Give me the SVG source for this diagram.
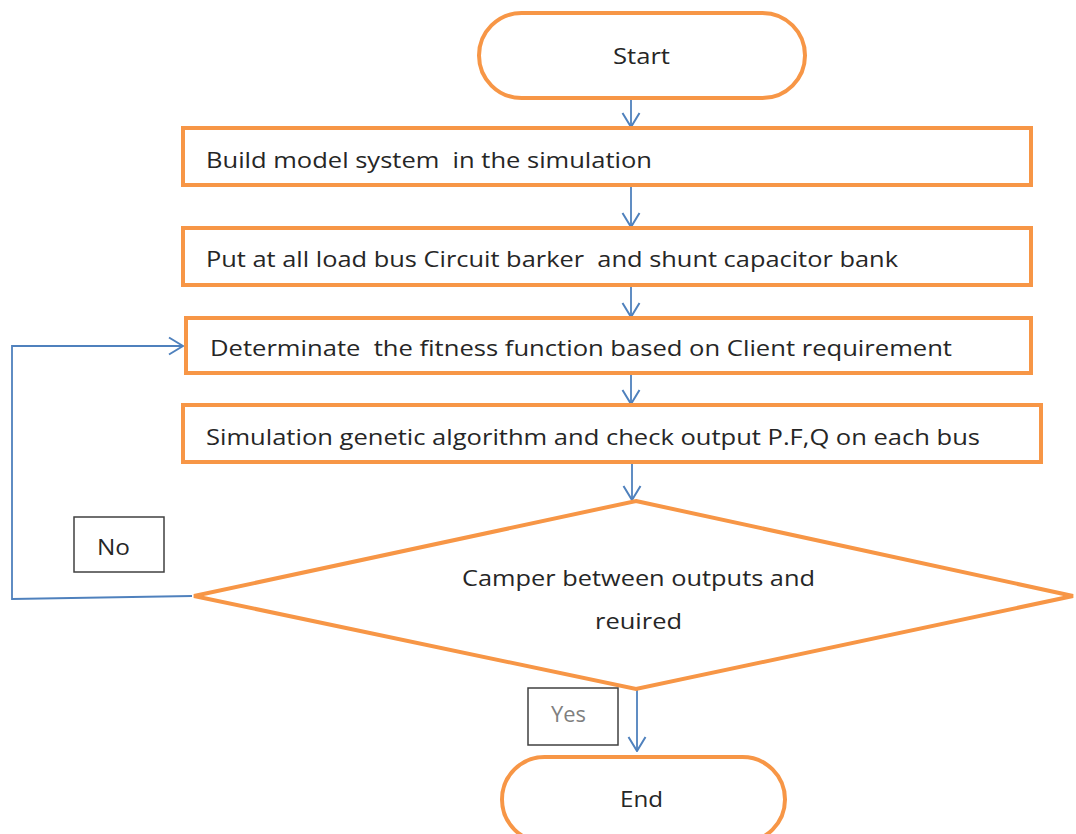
<svg xmlns="http://www.w3.org/2000/svg" width="1076" height="834" viewBox="0 0 1076 834">
<style>
.sh{fill:#fff;stroke:#f79646;stroke-width:4}
.lb{fill:#fff;stroke:#404040;stroke-width:1.5}
.t{font-family:"Open Sans","Liberation Sans",sans-serif;font-size:21px;fill:#262626;white-space:pre}
.g{fill:#7f7f7f}
.c{fill:none;stroke:#4f81bd;stroke-width:1.8}
</style>
<defs>
<marker id="a" viewBox="0 0 16 20" refX="15" refY="10" markerWidth="16" markerHeight="20" markerUnits="userSpaceOnUse" orient="auto">
<path d="M1,1.5 L15,10 L1,18.5" fill="none" stroke="#4f81bd" stroke-width="2"/>
</marker>
</defs>
<g id="connectors">
<line class="c" x1="631" y1="99" x2="631" y2="127" marker-end="url(#a)"/>
<line class="c" x1="631" y1="186" x2="631" y2="227" marker-end="url(#a)"/>
<line class="c" x1="631" y1="286" x2="631" y2="317" marker-end="url(#a)"/>
<line class="c" x1="631" y1="374" x2="631" y2="404" marker-end="url(#a)"/>
<line class="c" x1="632" y1="463" x2="632" y2="500" marker-end="url(#a)"/>
<line class="c" x1="637" y1="690" x2="637" y2="751" marker-end="url(#a)"/>
<polyline class="c" points="192,596 12,599 12,346 183,346" marker-end="url(#a)"/>
</g>
<g id="start">
<rect class="sh" x="479" y="13" width="326" height="85" rx="42.5"/>
<text class="t" x="641.5" y="64" text-anchor="middle" textLength="57" lengthAdjust="spacingAndGlyphs">Start</text>
</g>
<g id="build">
<rect class="sh" x="183" y="128" width="848" height="57"/>
<text class="t" x="206" y="168" textLength="446" lengthAdjust="spacingAndGlyphs">Build model system  in the simulation</text>
</g>
<g id="put">
<rect class="sh" x="183" y="228" width="848" height="57"/>
<text class="t" x="206" y="267" textLength="692" lengthAdjust="spacingAndGlyphs">Put at all load bus Circuit barker  and shunt capacitor bank</text>
</g>
<g id="determinate">
<rect class="sh" x="186" y="318" width="845" height="55"/>
<text class="t" x="210" y="356" textLength="742" lengthAdjust="spacingAndGlyphs">Determinate  the fitness function based on Client requirement</text>
</g>
<g id="simulation">
<rect class="sh" x="183" y="405" width="858" height="57"/>
<text class="t" x="206" y="445" textLength="774" lengthAdjust="spacingAndGlyphs">Simulation genetic algorithm and check output P.F,Q on each bus</text>
</g>
<g id="decision">
<polygon class="sh" points="636,501 1073,596 636,689 194,596"/>
<text class="t" x="638.5" y="586" text-anchor="middle" textLength="353" lengthAdjust="spacingAndGlyphs">Camper between outputs and</text>
<text class="t" x="638.5" y="629" text-anchor="middle" textLength="87" lengthAdjust="spacingAndGlyphs">reuired</text>
</g>
<g id="no">
<rect class="lb" x="74" y="517" width="90" height="55"/>
<text class="t" x="113.5" y="555" text-anchor="middle" textLength="33" lengthAdjust="spacingAndGlyphs">No</text>
</g>
<g id="yes">
<rect class="lb" x="528" y="688" width="90" height="57"/>
<text class="t g" x="568.5" y="722" text-anchor="middle" textLength="35" lengthAdjust="spacingAndGlyphs">Yes</text>
</g>
<g id="end">
<rect class="sh" x="502" y="757" width="283" height="85" rx="42.5"/>
<text class="t" x="641.5" y="807" text-anchor="middle" textLength="43" lengthAdjust="spacingAndGlyphs">End</text>
</g>
</svg>
